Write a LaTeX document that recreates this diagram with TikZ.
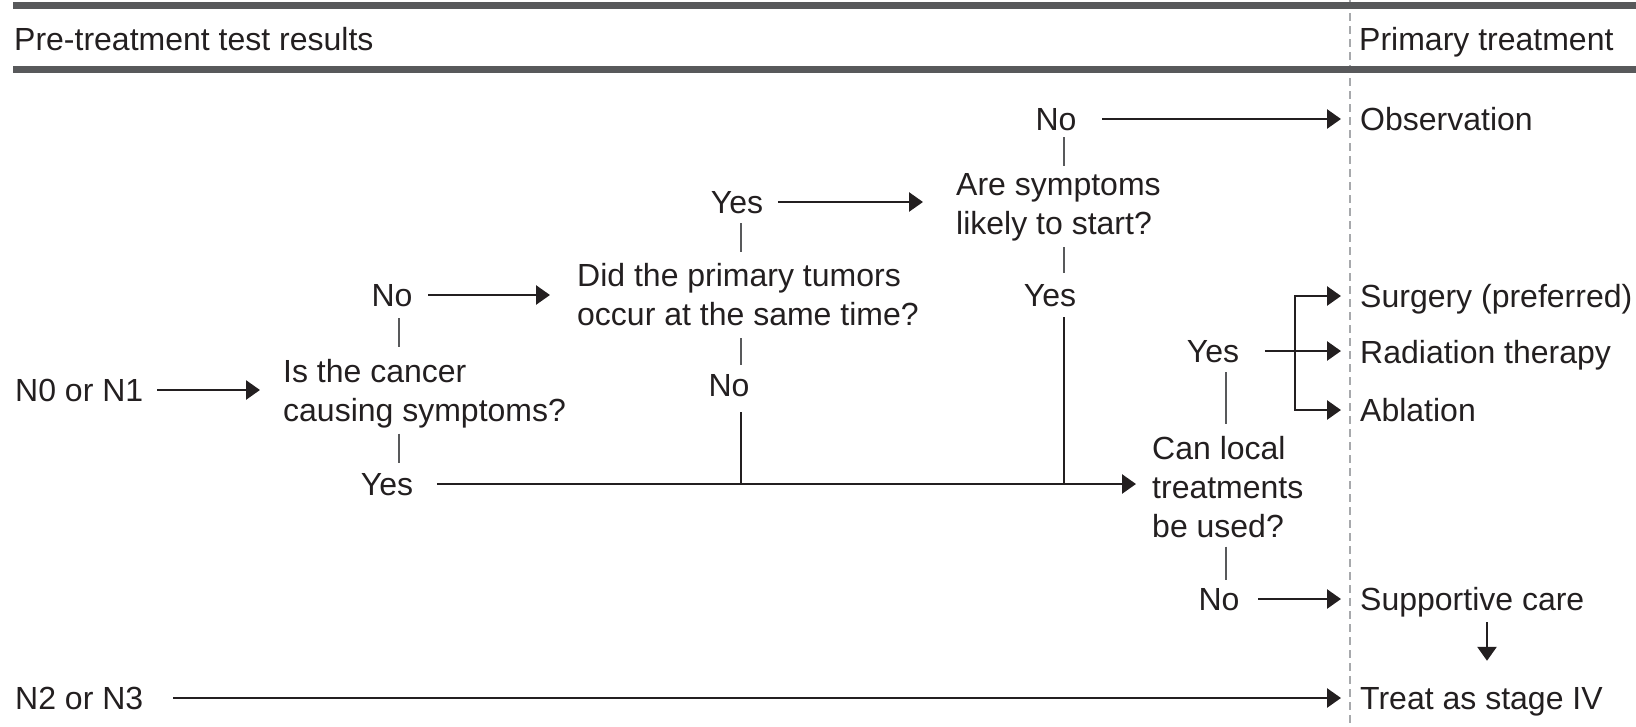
\documentclass[tikz,border=0pt]{standalone}
\usepackage{fontspec}
\setmainfont{Liberation Sans}
\usetikzlibrary{arrows.meta}
\definecolor{ink}{HTML}{231F20}
\definecolor{barc}{HTML}{58595B}
\definecolor{dashgray}{HTML}{A7A9AC}
\begin{document}
\begin{tikzpicture}[x=1pt,y=-1pt,
  font=\fontsize{32}{39}\selectfont, text=ink,
  lbl/.style={inner sep=0pt, text height=23pt, text depth=0pt},
  qbox/.style={inner sep=0pt, align=left, anchor=north west},
  arr/.style={draw=ink, line width=2.7pt, -{Triangle[length=14pt,width=19pt]}},
  arrtwo/.style={draw=ink, line width=2.7pt, {Triangle[length=14pt,width=19pt]}-{Triangle[length=14pt,width=19pt]}},
  ln/.style={draw=ink, line width=2.7pt},
  tick/.style={draw=barc, line width=2.2pt}]
\useasboundingbox (0,0) rectangle (1636,726);
% columns
\coordinate (cA) at (399,0);
\coordinate (cB) at (741,0);
\coordinate (cC) at (1064,0);
\coordinate (cD) at (1226,0);
\coordinate (cE) at (1295,0);
\coordinate (cF) at (1487,0);
% dashed divider and bars
\draw[dashgray, line width=2pt, dash pattern=on 8pt off 5pt] (1350,0) -- (1350,726);
\fill[barc] (13,1.5) rectangle (1636,8.5);
\fill[barc] (13,66) rectangle (1636,73);
% headers
\node[lbl, anchor=west] (hdrL) at (14,38.5) {Pre-treatment test results};
\node[lbl, anchor=west] (hdrR) at (1359,38.5) {Primary treatment};
% left inputs
\node[lbl, anchor=west] (n01) at (15,390) {N0 or N1};
\node[lbl, anchor=west] (n23) at (15,698) {N2 or N3};
% questions
\node[qbox] (q1) at (283,359.5) {\rule{0pt}{23pt}Is the cancer\\causing symptoms?\rule[-7pt]{0pt}{7pt}};
\node[qbox] (q2) at (577,263.5) {\rule{0pt}{23pt}Did the primary tumors\\occur at the same time?\rule[-7pt]{0pt}{7pt}};
\node[qbox] (q3) at (956,172.5) {\rule{0pt}{23pt}Are symptoms\\likely to start?\rule[-7pt]{0pt}{7pt}};
\node[qbox] (q4) at (1152,436.5) {\rule{0pt}{23pt}Can local\\treatments\\be used?\rule[-7pt]{0pt}{7pt}};
% answers
\node[lbl] (no1) at (392,295) {No};
\node[lbl] (yes1) at (387,484) {Yes};
\node[lbl] (yes2) at (737,202) {Yes};
\node[lbl] (no2) at (729,385) {No};
\node[lbl] (no3) at (1056,119) {No};
\node[lbl] (yes3) at (1050,295) {Yes};
\node[lbl] (yes4) at (1213,351) {Yes};
\node[lbl] (no4) at (1219,599) {No};
% treatments
\node[lbl, anchor=west] (obs) at (1360,119) {Observation};
\node[lbl, anchor=west] (surg) at (1360,296) {Surgery (preferred)};
\node[lbl, anchor=west] (rad) at (1360,352) {Radiation therapy};
\node[lbl, anchor=west] (abl) at (1360,410) {Ablation};
\node[lbl, anchor=west] (sup) at (1360,599) {Supportive care};
\node[lbl, anchor=west] (treat) at (1360,698) {Treat as stage IV};
% arrows
\draw[arr, shorten <=14pt, shorten >=23pt] (n01.east) -- (n01.east -| q1.west);
\draw[arr, shorten <=15.5pt, shorten >=27pt] (no1.east) -- (no1.east -| q2.west);
\draw[arr, shorten <=14.5pt, shorten >=33pt] (yes2.east) -- (yes2.east -| q3.west);
\draw[arr, shorten <=25.5pt, shorten >=19pt] (no3.east) -- (obs.west);
\draw[arr, shorten <=23.5pt, shorten >=16pt] (yes1.east) -- (yes1.east -| q4.west);
\draw[ln, shorten <=15.5pt] (no2.south -| cB) -- (cB |- yes1.east);
\draw[ln, shorten <=10.5pt] (yes3.south -| cC) -- (cC |- yes1.east);
\draw[arr, shorten <=25.5pt, shorten >=19pt] (yes4.east) -- (yes4.east -| rad.west);
\draw[arrtwo, shorten <=19pt, shorten >=19pt] (surg.west) -| (cE |- abl.west) -- (abl.west);
\draw[arr, shorten <=18.5pt, shorten >=19pt] (no4.east) -- (sup.west);
\draw[arr, shorten <=11.5pt, shorten >=25.5pt] (sup.south -| cF) -- (treat.north -| cF);
\draw[arr, shorten <=30pt, shorten >=19pt] (n23.east) -- (treat.west);
% ticks
\draw[tick, shorten <=11.5pt, shorten >=12.5pt] (no1.south -| cA) -- (q1.north -| cA);
\draw[tick, shorten <=4.5pt, shorten >=9.5pt] (q1.south -| cA) -- (yes1.north -| cA);
\draw[tick, shorten <=9.5pt, shorten >=11.5pt] (yes2.south -| cB) -- (q2.north -| cB);
\draw[tick, shorten <=5pt, shorten >=8.5pt] (q2.south -| cB) -- (no2.north -| cB);
\draw[tick, shorten <=6.5pt, shorten >=6.5pt] (no3.south -| cC) -- (q3.north -| cC);
\draw[tick, shorten <=5.5pt, shorten >=10.5pt] (q3.south -| cC) -- (yes3.north -| cC);
\draw[tick, shorten <=9.5pt, shorten >=12.5pt] (yes4.south -| cD) -- (q4.north -| cD);
\draw[tick, shorten <=1.5pt, shorten >=7.5pt] (q4.south -| cD) -- (no4.north -| cD);
\end{tikzpicture}
\end{document}
